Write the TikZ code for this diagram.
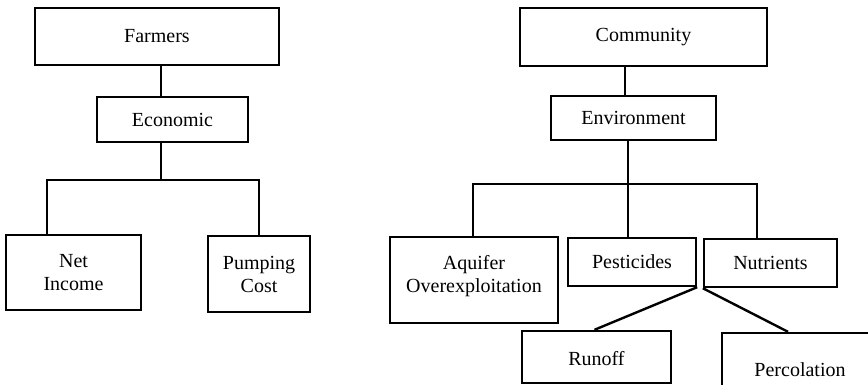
\documentclass[tikz,border=0pt]{standalone}
\usepackage{fontspec}
\setmainfont{Liberation Serif}

\begin{document}
\begin{tikzpicture}[x=1pt,y=-1pt,line width=2.4pt,
  box/.style={draw,line width=2.4pt,align=center,inner sep=0pt,font=\fontsize{20}{23}\selectfont}]
\useasboundingbox (0,0) rectangle (868,385);
\clip (0,0) rectangle (868,385);

\node[box,minimum width=244pt,minimum height=57pt] (farmers) at (157,36.5) {Farmers};
\node[box,minimum width=151pt,minimum height=45pt] (econ) at (172.5,119.5) {Economic};
\node[box,minimum width=135pt,minimum height=75pt] (net) at (73.5,272.5) {Net\\Income};
\node[box,minimum width=102pt,minimum height=76pt] (pump) at (259,274) {Pumping\\Cost};

\node[box,minimum width=247pt,minimum height=58pt] (comm) at (643.5,37) {Community};
\node[box,minimum width=165pt,minimum height=44pt] (env) at (633.5,118) {Environment};
\node[box,minimum width=168pt,minimum height=86pt,text depth=12pt] (aquifer) at (474,280) {Aquifer\\Overexploitation};
\node[box,minimum width=128pt,minimum height=48pt] (pest) at (632,262) {Pesticides};
\node[box,minimum width=133pt,minimum height=48pt] (nutr) at (770.5,263) {Nutrients};
\node[box,minimum width=149pt,minimum height=52pt,text height=18pt] (runoff) at (596.5,357) {Runoff};
\node[box,minimum width=156pt,minimum height=74pt] (perc) at (800,370) {Percolation};

\coordinate (lfork) at (161,180);
\coordinate (netup) at (47,180);
\draw (lfork |- farmers.south) -- (lfork |- econ.north);
\draw (lfork |- econ.south) -- (lfork);
\draw (netup |- net.north) -- (netup) -- (pump.north |- netup) -- (pump.north);

\coordinate (rtop) at (625,80);
\coordinate (rfork) at (628,184);
\coordinate (aqup) at (473,184);
\coordinate (nuup) at (757,184);
\draw (rtop |- comm.south) -- (rtop |- env.north);
\draw (rfork |- env.south) -- (rfork);
\draw (aqup |- aquifer.north) -- (aqup) -- (nuup) -- (nuup |- nutr.north);
\draw (rfork) -- (rfork |- pest.north);
\draw (pest.south east) -- ([xshift=-2pt]runoff.north);
\draw (nutr.south west) -- ([xshift=-12pt]perc.north);
\end{tikzpicture}
\end{document}
